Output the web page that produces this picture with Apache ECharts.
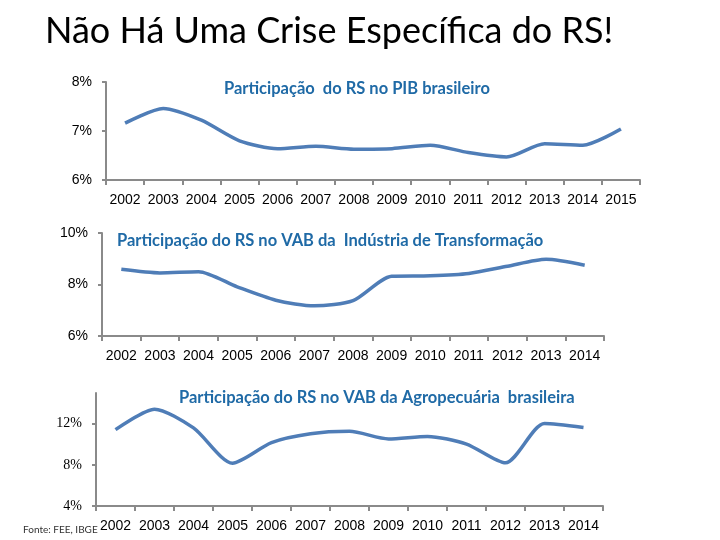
<!DOCTYPE html>
<html>
<head>
<meta charset="utf-8">
<script src="https://cdn.jsdelivr.net/npm/echarts@6/dist/echarts.min.js"></script>
<style>html,body{margin:0;padding:0;background:#fff;}#c{width:720px;height:540px;}</style>
</head>
<body>
<div id="c"></div>
<script>
const mainTitle = 'Não Há Uma Crise Específica do RS!';
const title1 = 'Participação  do RS no PIB brasileiro';
const title2 = 'Participação do RS no VAB da  Indústria de Transformação';
const title3 = 'Participação do RS no VAB da Agropecuária  brasileira';
const source = 'Fonte: FEE, IBGE';

const years1 = ['2002','2003','2004','2005','2006','2007','2008','2009','2010','2011','2012','2013','2014','2015'];
const years2 = ['2002','2003','2004','2005','2006','2007','2008','2009','2010','2011','2012','2013','2014'];
const years3 = ['2002','2003','2004','2005','2006','2007','2008','2009','2010','2011','2012','2013','2014'];

const pib = [7.16, 7.46, 7.22, 6.80, 6.64, 6.69, 6.63, 6.64, 6.71, 6.56, 6.47, 6.74, 6.71, 7.04];
const industria = [8.59, 8.45, 8.50, 7.91, 7.39, 7.17, 7.37, 8.32, 8.34, 8.43, 8.71, 8.98, 8.75];
const agro = [11.43, 13.43, 11.60, 8.17, 10.17, 11.03, 11.27, 10.53, 10.77, 10.03, 8.20, 12.03, 11.64];

const ticks1 = [6, 7, 8];
const ticks2 = [6, 8, 10];
const ticks3 = [4, 8, 12];

const lineColor = '#4f7db7';
const axisColor = '#8a8a8a';
const subColor = '#1f6aa6';

const chart = echarts.init(document.getElementById('c'));

function xAxis(idx, data) {
  return {
    type: 'category', gridIndex: idx, data: data, boundaryGap: true,
    axisLine: {lineStyle: {color: axisColor, width: 2}},
    axisTick: {show: true, interval: 0, length: 5, lineStyle: {color: axisColor, width: 2}},
    axisLabel: {interval: 0, margin: 13, color: '#000', fontSize: 14, fontFamily: 'Liberation Sans'},
    splitLine: {show: false}
  };
}
function yAxis(idx, min, max, interval, ticks, font) {
  return {
    type: 'value', gridIndex: idx, min: min, max: max, interval: interval,
    axisLine: {show: true, lineStyle: {color: axisColor, width: 2}},
    axisTick: {show: true, length: 4, lineStyle: {color: axisColor, width: 2}, customValues: ticks},
    axisLabel: {color: '#000', fontSize: 14, fontFamily: font, margin: 14, customValues: ticks,
      formatter: v => v + '%'},
    splitLine: {show: false}
  };
}
function series(idx, data) {
  return {
    type: 'line', xAxisIndex: idx, yAxisIndex: idx, data: data, smooth: 0.25,
    symbol: 'none', lineStyle: {color: lineColor, width: 3.5}, itemStyle: {color: lineColor}
  };
}

chart.setOption({
  animation: false,
  backgroundColor: '#fff',
  title: [
    {text: mainTitle, left: 40, top: 8, textStyle: {fontFamily: 'Lato', fontWeight: 'normal', fontSize: 36, color: '#000'}},
    {text: title1, left: 219, top: 75, textStyle: {fontFamily: 'Lato', fontWeight: 'bold', fontSize: 16.5, color: subColor}},
    {text: title2, left: 112, top: 227, textStyle: {fontFamily: 'Lato', fontWeight: 'bold', fontSize: 16.5, color: subColor}},
    {text: title3, left: 174, top: 384, textStyle: {fontFamily: 'Lato', fontWeight: 'bold', fontSize: 16.5, color: subColor}},
    {text: source, left: 18, top: 520, textStyle: {fontFamily: 'Lato', fontWeight: 'normal', fontSize: 10, color: '#333'}}
  ],
  grid: [
    {left: 106, top: 82, width: 534, height: 98},
    {left: 102, top: 233, width: 502, height: 103},
    {left: 96, top: 393, width: 507, height: 113}
  ],
  xAxis: [xAxis(0, years1), xAxis(1, years2), xAxis(2, years3)],
  yAxis: [
    yAxis(0, 6, 8, 1, ticks1, 'Liberation Sans'),
    yAxis(1, 6, 10, 2, ticks2, 'Liberation Sans'),
    yAxis(2, 4, 15, 4, ticks3, 'Liberation Serif')
  ],
  series: [series(0, pib), series(1, industria), series(2, agro)]
});
</script>
</body>
</html>
